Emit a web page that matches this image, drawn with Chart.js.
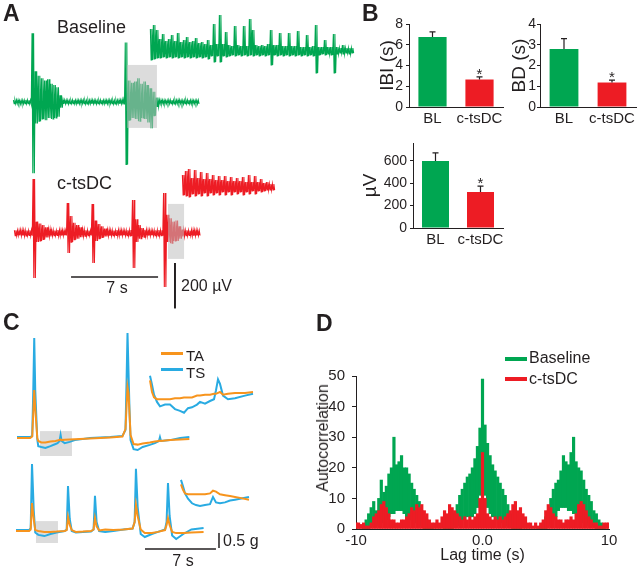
<!DOCTYPE html>
<html>
<head>
<meta charset="utf-8">
<script src="https://cdn.jsdelivr.net/npm/chart.js@4.4.0/dist/chart.umd.min.js"></script>
<style>
  body { margin: 0; background: #fff; }
  #fig { position: relative; width: 640px; height: 569px; overflow: hidden;
         font-family: "Liberation Sans", Arial, Helvetica, sans-serif; color: #231f20; }
  #fig canvas { position: absolute; }
  .t { position: absolute; line-height: 1; white-space: nowrap; }
  .L { font-weight: bold; font-size: 23px; }
  .k { position: absolute; }
</style>
</head>
<body>
<div id="fig">
  <!-- A -->
  <canvas id="aBase" width="200" height="155" style="left:5px;top:25px"></canvas>
  <canvas id="aBaseIn" width="215" height="80" style="left:145px;top:5px"></canvas>
  <canvas id="aRed" width="200" height="142" style="left:5px;top:170px"></canvas>
  <canvas id="aRedIn" width="100" height="50" style="left:178px;top:160px"></canvas>
  <!-- B -->
  <canvas id="bIbi" width="138" height="120" style="left:372px;top:10px"></canvas>
  <canvas id="bBd" width="136" height="120" style="left:504px;top:10px"></canvas>
  <canvas id="bAmp" width="155" height="122" style="left:355px;top:130px"></canvas>
  <!-- C -->
  <canvas id="cTop" width="190" height="135" style="left:10px;top:325px"></canvas>
  <canvas id="cTopIn" width="115" height="55" style="left:145px;top:365px"></canvas>
  <canvas id="cBot" width="260" height="120" style="left:10px;top:455px"></canvas>
  <canvas id="cBotIn" width="80" height="40" style="left:176px;top:475px"></canvas>
  <!-- D -->
  <canvas id="dAuto" width="320" height="209" style="left:310px;top:360px"></canvas>

  <div class="t L" style="left:3px;top:2px">A</div>
  <div class="t L" style="left:362px;top:2px">B</div>
  <div class="t L" style="left:3px;top:311px">C</div>
  <div class="t L" style="left:316px;top:312px">D</div>

  <div class="t" style="left:57px;top:18px;font-size:18px">Baseline</div>
  <div class="t" style="left:57px;top:174px;font-size:18px">c-tsDC</div>
  <div class="t" style="left:117px;top:280px;font-size:16px;transform:translateX(-50%)">7 s</div>
  <div class="t" style="left:181px;top:278px;font-size:16px">200 µV</div>

  <div class="k" style="left:161px;top:352px;width:22px;height:3px;background:#f7941d"></div>
  <div class="t" style="left:186px;top:348px;font-size:15px">TA</div>
  <div class="k" style="left:161px;top:368px;width:22px;height:3px;background:#29abe2"></div>
  <div class="t" style="left:186px;top:365px;font-size:15px">TS</div>
  <div class="t" style="left:223px;top:533px;font-size:16px">0.5 g</div>
  <div class="t" style="left:183px;top:553px;font-size:16px;transform:translateX(-50%)">7 s</div>

  <div class="k" style="left:505px;top:357px;width:22px;height:4px;background:#00a651"></div>
  <div class="t" style="left:529px;top:350px;font-size:16px">Baseline</div>
  <div class="k" style="left:505px;top:377px;width:22px;height:4px;background:#ed1c24"></div>
  <div class="t" style="left:529px;top:371px;font-size:16px">c-tsDC</div>
  <div class="t" style="left:323px;top:438px;font-size:16px;transform:translate(-50%,-50%) rotate(-90deg)">Autocorrelation</div>
</div>

<script>
const INK = '#231f20';
const GREEN = '#00a651';
const RED = '#ed1c24';
const ORANGE = '#f7941d';
const BLUE = '#29abe2';

// ---- A: EMG traces as min/max per bin (µV) ----
const binA = 0.25;          // s per bin, main traces
const baseHi = [8,9,7,8,9,8, 302, 135,115,105,95,100,80,75,65,30,
  9,8,7,9,8,8,9,7,8,9,8,7,9,8,8,9,7,8,9,11, 262, 95,85,90,105,80,90,75,60,45,20,
  9,8,7,9,8,8,9,7,8,9,8,7,8];
const baseLo = [-8,-7,-9,-8,-8,-9, -313, -95,-85,-75,-80,-70,-75,-70,-65,-25,
  -8,-9,-7,-8,-9,-8,-7,-9,-8,-8,-9,-7,-8,-9,-8,-7,-9,-8,-8,-11, -275, -80,-70,-75,-85,-70,-75,-90,-115,-60,-20,
  -8,-9,-7,-8,-9,-8,-7,-9,-8,-8,-9,-7,-8];
const redHi = [12,11,13,12,11,12, 238, 50,42,35,25,16, 12,11,13,12,11, 132, 75,45,35,25,15, 12,11,
  128, 55,40,30,20,14, 12,11,13,12,11,12,13, 145, 60,35,22,14, 12,11,12,13,12,
  176, 80,65,50,55,30,15, 12,11,13,12,11];
const redLo = [-12,-11,-12,-13,-11,-12, -198, -40,-35,-28,-20,-15, -12,-11,-13,-12,-11, -88, -40,-30,-25,-18,-14, -12,-11,
  -132, -35,-25,-20,-15,-13, -12,-11,-13,-12,-11,-12,-13, -154, -40,-25,-18,-13, -12,-11,-12,-13,-12,
  -238, -40,-45,-35,-35,-25,-15, -12,-11,-13,-12,-11];

const binBaseIn = 0.036;    // s per bin, baseline inset
const baseInHi = [88,104,84,48,68,40,48,64,40,72, 36,44,56,36,40,52,32,36,28,44,
  24,108,28,144,28,76,24,20,100,24, 20,100,20,128,84,24,20,24,20,28,
  84,24,24,72,20,20,72,20,20,80, 16,16,64,16,20,104,16,16,44,16, 16,68,16,12,24,12,12,12];
const baseInLo = [-36,-32,-28,-28,-24,-28,-24,-28,-24,-28, -24,-28,-24,-28,-24,-28,-24,-28,-24,-32,
  -20,-44,-20,-44,-20,-24,-20,-16,-20,-16, -20,-16,-20,-16,-20,-16,-20,-16,-20,-16,
  -56,-16,-20,-16,-20,-16,-20,-16,-20,-16, -20,-16,-20,-16,-20,-88,-16,-12,-16,-12, -16,-88,-12,-8,-12,-8,-12,-8];

const binRedIn = 0.042;     // s per bin, c-tsDC inset
const redInHi = [48,64,72,36,68,36,60,32,56,32, 48,28,44,28,44,24,40,24,36,24, 40,20,48,20,44,20,32,16,20,12, 12];
const redInLo = [-32,-36,-40,-28,-36,-28,-36,-24,-36,-24, -32,-24,-32,-20,-32,-20,-32,-20,-28,-20,
  -32,-20,-28,-16,-28,-16,-20,-16,-12,-12, -12];

// ---- B: means and SEM ----
const groups = ['BL', 'c-tsDC'];
const ibiMean = [6.75, 2.65], ibiSem = [0.5, 0.25];
const bdMean = [2.8, 1.18], bdSem = [0.5, 0.12];
const ampMean = [600, 322], ampSem = [72, 52];
const signif = [false, true];
const ibiTicks = [0, 2, 4, 6, 8];
const bdTicks = [0, 1, 2, 3, 4];
const ampTicks = [0, 200, 400, 600];

// ---- C: force traces (g) ----
const cTopT  = [0,1.3,1.5,1.6,1.7,1.8,2.0,2.1,2.4,2.8,3.3,3.8,4.0,4.2,4.3,4.4,4.7,5.2,5.7,7.2,9.2,
  10.4,10.7,10.8,10.9,11.0,11.1,11.2,11.5,11.9,12.4,13.1,13.6,14.0,14.1,14.2,15.1,16.1,17.0];
const cTopTS = [0.03,0.03,0.07,1.5,3.33,1.6,-0.05,-0.27,-0.3,-0.33,-0.27,-0.2,-0.17,-0.1,0.1,-0.1,-0.17,-0.13,-0.07,0,0.03,
  0.07,0.27,1.8,3.5,2.2,0.9,-0.07,-0.37,-0.4,-0.3,-0.23,-0.17,-0.1,0.03,-0.1,-0.07,0,0.03];
const cTopTA = [0,0,0.05,0.8,1.6,1.0,0,-0.1,-0.15,-0.15,-0.12,-0.1,-0.08,-0.07,-0.05,-0.07,-0.06,-0.05,-0.04,-0.02,0.02,
  0.05,0.3,1.0,1.7,1.5,0.8,0.1,-0.2,-0.22,-0.18,-0.15,-0.12,-0.1,-0.08,-0.1,-0.07,-0.05,-0.03];

const cBotT  = [0,1.3,1.45,1.58,1.75,1.9,2.2,2.8,3.4,4.0,4.8,5.0,5.13,5.3,5.5,5.9,6.6,7.4,7.65,7.79,7.95,
  8.2,8.8,9.6,10.6,11.5,11.7,11.83,12.0,12.3,12.7,13.4,14.0,14.7,14.85,14.99,15.15,15.4,15.8,16.5,17.3,18.5];
const cBotTS = [0.03,0.03,0.1,2.23,0.7,-0.05,-0.13,-0.17,-0.1,-0.05,0,0.05,1.5,0.4,0,-0.05,-0.03,-0.02,0.05,1.17,0.3,
  0,-0.03,0,0.05,0.08,0.3,2.07,0.8,-0.1,-0.2,-0.1,-0.03,0.05,0.3,1.6,0.5,-0.15,-0.27,-0.1,0.05,0.1];
const cBotTA = [0,0,0.05,0.93,0.4,0.03,0,-0.03,-0.03,-0.02,0,0.03,0.47,0.2,0.03,-0.03,-0.02,0,0.05,0.43,0.15,
  0.02,0.05,0.03,0.05,0.08,0.3,0.87,0.5,0.05,-0.07,-0.07,-0.03,0.03,0.2,0.43,0.2,-0.03,-0.07,-0.07,-0.05,-0.03];

const cTopInT  = [0,0.06,0.12,0.21,0.3,0.45,0.6,0.75,0.9,1.02,1.14,1.26,1.41,1.5,1.65,1.8,1.92,1.98,2.04,2.1,2.19,2.34,2.55,2.85,3.09];
const cTopInTS = [0.18,0.08,-0.03,-0.11,-0.16,-0.14,-0.14,-0.19,-0.21,-0.23,-0.18,-0.17,-0.14,-0.11,-0.13,-0.1,-0.08,0.02,0.14,0.09,-0.04,-0.08,-0.07,-0.04,-0.02];
const cTopInTA = [0.13,0,-0.06,-0.08,-0.08,-0.08,-0.08,-0.07,-0.07,-0.06,-0.06,-0.06,-0.04,-0.04,-0.03,-0.03,-0.02,-0.02,-0.01,0,-0.03,-0.02,-0.01,-0.01,0];

const cBotInT  = [0,0.06,0.12,0.21,0.33,0.45,0.57,0.72,0.87,0.96,1.05,1.17,1.32,1.47,1.62,1.77,2.04];
const cBotInTS = [0.19,0.12,0.04,-0.02,-0.07,-0.09,-0.1,-0.09,-0.08,0,-0.06,-0.07,-0.06,-0.04,-0.03,-0.02,0];
const cBotInTA = [0.14,0.08,0.04,0.03,0.03,0.03,0.03,0.03,0.04,0.07,0.06,0.03,0.02,0.01,0,-0.01,-0.03];

// ---- D: autocorrelation histogram, 0.2 s bins from -10 to 10 ----
const lag = Array.from({ length: 101 }, (_, k) => -10 + 0.2 * k);
const acBaseHi = [0,0,0,1,3,5,7,9,6,10, 16,12,14,18,20,30,21,22,24,20, 20,18,15,13,11,9,6,4,3,1,
  0.5,0,0,0,0,0.5,1,2,3,5, 8,11,13,15,17,18,20,23,27,33, 49,
  34,28,24,21,19,17,15,13,11,8, 5,3,2,1,0.5,0,0,0,0,0, 0,0.5,1,2,4,6,10,13,15,16,
  19,24,22,21,25,30,22,20,19,16, 13,11,9,6,5,3,2,1,0,0];
const acBaseLo = [0,0,0,0,0,0,1,1,1,2, 2,3,3,4,5,5,6,6,6,5, 4,3,3,2,2,1,1,0,0,0,
  0,0,0,0,0,0,0,0,0,1, 1,2,3,3,4,4,4,5,7,11, 15,
  11,7,5,4,4,3,3,2,2,1, 1,0,0,0,0,0,0,0,0,0, 0,0,0,0,0,1,2,3,4,6,
  7,7,7,6,6,5,5,4,3,2, 2,1,1,1,0,0,0,0,0,0];
const acRed = [2,2,1.5,2,1,1,2,4,5,6, 8,9,7,5,3,3,2,2,3,3, 4,5,7,6,8,7,8,6,5,3,
  2,2,3,2,4,6,5,8,7,6, 5,4,3,4,3,4,3,4,5,10, 25,
  10,5,4,3,4,3,4,3,4,5, 6,8,9,6,7,5,4,2,2,1, 2,1,2,3,6,8,7,5,4,3,
  3,2,3,3,4,3,5,8,9,8, 6,4,3,2,2,1,1,2,2,2];
const lagTicks = [-10, 0, 10];
const lagTickLabels = ['-10', '0.0', '10'];
const acTicks = [0, 10, 20, 30, 40, 50];

// ---- annotation marks (gray boxes, scale bars) in data units ----
const MARKS = {
  aBase: { over: [{ x0: 9.17, x1: 11.58, y0: 163, y1: -114 }] },
  aRed: { over: [{ x0: 12.39, x1: 13.68, y0: 128, y1: -114 }],
          bars: [{ x0: 4.59, x1: 11.59, y0: -194, y1: -194, w: 1.5 },
                 { x0: 12.95, x1: 12.95, y0: -132, y1: -332, w: 2 }] },
  cTop: { under: [{ x0: 2.27, x1: 5.42, y0: 0.23, y1: -0.6 }] },
  cBot: { under: [{ x0: 1.97, x1: 4.14, y0: 0.33, y1: -0.4 }],
          bars: [{ x0: 12.72, x1: 19.72, y0: -0.6, y1: -0.6, w: 1.5 },
                 { x0: 20.02, x1: 20.02, y0: -0.07, y1: -0.57, w: 1.5 }] }
};
const ERRS = {
  bIbi: { sem: ibiSem, star: signif },
  bBd: { sem: bdSem, star: signif },
  bAmp: { sem: ampSem, star: signif }
};

function boxes(chart, list, color) {
  const { ctx, scales: { x, y } } = chart;
  ctx.save();
  ctx.fillStyle = color;
  list.forEach(b => {
    const x0 = x.getPixelForValue(b.x0), x1 = x.getPixelForValue(b.x1);
    const y0 = y.getPixelForValue(b.y0), y1 = y.getPixelForValue(b.y1);
    ctx.fillRect(x0, y0, x1 - x0, y1 - y0);
  });
  ctx.restore();
}

Chart.register({
  id: 'marks',
  beforeDatasetsDraw(chart) {
    const m = MARKS[chart.canvas.id];
    if (m && m.under) boxes(chart, m.under, '#dcdcdc');
  },
  afterDatasetsDraw(chart) {
    const { ctx } = chart;
    const m = MARKS[chart.canvas.id];
    if (m) {
      if (m.over) boxes(chart, m.over, 'rgba(190,190,190,0.54)');
      (m.bars || []).forEach(b => {
        const { x, y } = chart.scales;
        ctx.save();
        ctx.strokeStyle = INK;
        ctx.lineWidth = b.w;
        ctx.beginPath();
        ctx.moveTo(x.getPixelForValue(b.x0), y.getPixelForValue(b.y0));
        ctx.lineTo(x.getPixelForValue(b.x1), y.getPixelForValue(b.y1));
        ctx.stroke();
        ctx.restore();
      });
    }
    const e = ERRS[chart.canvas.id];
    if (e) {
      const y = chart.scales.y;
      const vals = chart.data.datasets[0].data;
      ctx.save();
      ctx.strokeStyle = INK;
      ctx.fillStyle = INK;
      ctx.lineWidth = 1.2;
      ctx.textAlign = 'center';
      ctx.font = '15px "Liberation Sans", Arial, sans-serif';
      chart.getDatasetMeta(0).data.forEach((bar, i) => {
        const top = y.getPixelForValue(vals[i] + e.sem[i]);
        ctx.beginPath();
        ctx.moveTo(bar.x, bar.y);
        ctx.lineTo(bar.x, top);
        ctx.moveTo(bar.x - 3, top);
        ctx.lineTo(bar.x + 3, top);
        ctx.stroke();
        if (e.star[i]) ctx.fillText('*', bar.x, top + 2);
      });
      ctx.restore();
    }
  }
});

Chart.defaults.font.family = '"Liberation Sans", Arial, Helvetica, sans-serif';
Chart.defaults.color = INK;
Chart.defaults.animation = false;
Chart.defaults.plugins.legend.display = false;
Chart.defaults.plugins.tooltip.enabled = false;

// each bin is drawn as two strokes between its max and its min
const zigzag = (dt, lo, hi) => hi.flatMap((h, i) => [
  { x: dt * (i + 0.125), y: h }, { x: dt * (i + 0.375), y: lo[i] },
  { x: dt * (i + 0.625), y: h }, { x: dt * (i + 0.875), y: lo[i] }]);
const pts = (t, v) => t.map((x, i) => ({ x, y: v[i] }));

function emg(dt, lo, hi, color) {
  return { type: 'line', data: zigzag(dt, lo, hi), borderColor: color, borderWidth: 1.1,
           pointRadius: 0, fill: false, tension: 0 };
}
function force(t, v, color) {
  return { type: 'line', data: pts(t, v), borderColor: color, borderWidth: 2,
           pointRadius: 0, fill: false, tension: 0 };
}
function trace(id, datasets, xr, yr) {
  return new Chart(document.getElementById(id), {
    type: 'line',
    data: { datasets },
    options: {
      responsive: false, events: [],
      layout: { padding: 0 },
      scales: {
        x: { type: 'linear', min: xr[0], max: xr[1], display: false },
        y: { min: yr[0], max: yr[1], display: false }
      }
    }
  });
}

// A
trace('aBase', [emg(binA, baseLo, baseHi, GREEN)], [-0.644, 15.446], [-343.2, 338.8]);
trace('aBaseIn', [emg(binBaseIn, baseInLo, baseInHi, GREEN)], [-0.06, 2.52], [-136, 184]);
trace('aRed', [emg(binA, redLo, redHi, RED)], [-0.724, 15.366], [-347.6, 277.2]);
trace('aRedIn', [emg(binRedIn, redInLo, redInHi, RED)], [-0.056, 1.344], [-92, 108]);

// C
trace('cTop', [force(cTopT, cTopTA, ORANGE), force(cTopT, cTopTS, BLUE)], [-0.69, 18.05], [-0.733, 3.767]);
trace('cTopIn', [force(cTopInT, cTopInTA, ORANGE), force(cTopInT, cTopInTS, BLUE)], [-0.15, 3.3], [-0.311, 0.3]);
trace('cBot', [force(cBotT, cBotTA, ORANGE), force(cBotT, cBotTS, BLUE)], [-0.59, 25.05], [-1.467, 2.533]);
trace('cBotIn', [force(cBotInT, cBotInTA, ORANGE), force(cBotInT, cBotInTS, BLUE)], [-0.15, 2.25], [-0.2, 0.244]);

// B
function barPanel(id, title, mean, ticks, yMax, g) {
  return new Chart(document.getElementById(id), {
    type: 'bar',
    data: { labels: groups, datasets: [{ data: mean, backgroundColor: [GREEN, RED],
            borderWidth: 0, barPercentage: 0.6, categoryPercentage: 1 }] },
    options: {
      responsive: false, events: [],
      layout: { padding: { top: g.top, right: g.right, left: 0, bottom: 0 } },
      scales: {
        x: {
          afterFit: s => { s.height = g.xh; },
          grid: { display: false, drawTicks: false },
          border: { color: INK },
          ticks: { font: { size: 15 }, padding: 3, maxRotation: 0, autoSkip: false }
        },
        y: {
          min: 0, max: yMax,
          afterBuildTicks: s => { s.ticks = ticks.map(v => ({ value: v })); },
          afterFit: s => { s.width = g.yw; },
          grid: { drawOnChartArea: false, tickLength: 3, color: INK },
          border: { color: INK },
          ticks: { font: { size: 14 }, padding: g.pad },
          title: { display: true, text: title, font: { size: 19 }, padding: { top: 4, bottom: 0 } }
        }
      }
    }
  });
}
barPanel('bIbi', 'IBI (s)', ibiMean, ibiTicks, 8, { top: 14, right: 7, xh: 23, yw: 37, pad: 3 });
barPanel('bBd', 'BD (s)', bdMean, bdTicks, 4, { top: 14, right: 4, xh: 23, yw: 36, pad: 1 });
barPanel('bAmp', 'µV', ampMean, ampTicks, 760, { top: 13, right: 7, xh: 24, yw: 58, pad: 3 });

// D
new Chart(document.getElementById('dAuto'), {
  type: 'bar',
  data: {
    datasets: [
      { label: 'c-tsDC', data: lag.map((t, k) => ({ x: t, y: [0, acRed[k]] })), backgroundColor: RED,
        borderWidth: 0, barPercentage: 1, categoryPercentage: 1, grouped: false },
      { label: 'Baseline', data: lag.map((t, k) => ({ x: t, y: [acBaseLo[k], acBaseHi[k]] })), backgroundColor: GREEN,
        borderWidth: 0, barPercentage: 1, categoryPercentage: 1, grouped: false }
    ]
  },
  options: {
    responsive: false, events: [],
    layout: { padding: { top: 15, right: 21, left: 0, bottom: 0 } },
    scales: {
      x: {
        type: 'linear', min: -10, max: 10, offset: false,
        afterBuildTicks: s => { s.ticks = lagTicks.map(v => ({ value: v })); },
        afterFit: s => { s.height = 40; },
        grid: { display: false, drawTicks: false },
        border: { color: INK },
        ticks: { font: { size: 15 }, padding: 3, maxRotation: 0, autoSkip: false,
                 callback: (v, i) => lagTickLabels[i] },
        title: { display: true, text: 'Lag time (s)', font: { size: 16 }, padding: { top: 0, bottom: 4 } }
      },
      y: {
        min: 0, max: 50,
        afterBuildTicks: s => { s.ticks = acTicks.map(v => ({ value: v })); },
        afterFit: s => { s.width = 46; },
        grid: { drawOnChartArea: false, tickLength: 4, color: INK },
        border: { color: INK },
        ticks: { font: { size: 15 }, padding: 7 }
      }
    }
  }
});
</script>
</body>
</html>
